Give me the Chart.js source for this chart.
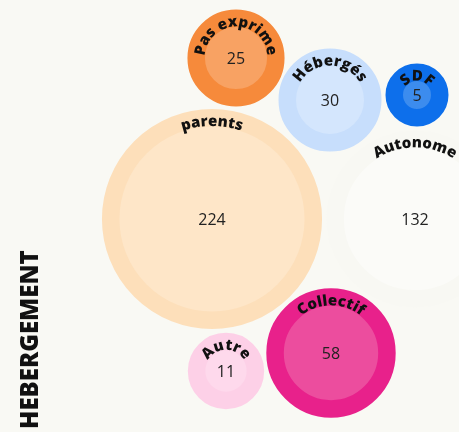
<!DOCTYPE html>
<html lang="fr">
<head>
<meta charset="UTF-8">
<title>Hebergement</title>
<script src="https://cdn.jsdelivr.net/npm/chart.js"></script>
<style>
    body {
        margin: 0;
        background-color: #f9f9f4;
    }
    .wrap {
        position: relative;
        width: 459px;
        height: 432px;
    }
    .title {
        position: absolute;
        left: 29px;
        top: 429px;
        transform-origin: 0 0;
        transform: rotate(-90deg) translateY(-50%);
        font-family: "Open Sans", sans-serif;
        font-weight: 800;
        font-size: 24px;
        line-height: 1;
        color: #111;
        white-space: nowrap;
    }
</style>
</head>
<body>
<div class="wrap">
    <canvas id="bubbles" width="459" height="432"></canvas>
    <div class="title">HEBERGEMENT</div>
</div>

<script>
    // categories and counts
    const categories = ["parents", "Autonome", "Collectif", "Hébergés", "Pas exprime", "Autre", "SDF"];
    const counts = [224, 132, 58, 30, 25, 11, 5];

    // packed layout (position of each bubble centre)
    const posX = [212, 415, 331, 330, 236, 226, 417];
    const posY = [219, 219, 353, 100, 58, 371, 95];

    const outerColors = ["#fddfba", "#f8f8f3", "#e8218b", "#c7defc", "#f68a3b", "#fdd0e7", "#0d6feb"];
    const innerColors = ["#fee6c8", "#fbfbf8", "#ec4d9e", "#d4e6fd", "#f8a263", "#fed9ec", "#3c8cee"];

    const ring = 17.5;
    // outer radius grows with sqrt of count
    function outerRadius(v) {
        return 31.5 + 6.17 * (Math.sqrt(v) - Math.sqrt(5));
    }

    function arcText(ctx, str, cx, cy, R) {
        const chars = Array.from(str);
        const widths = chars.map(c => ctx.measureText(c).width);
        const total = widths.reduce((a, b) => a + b, 0);
        let a = -Math.PI / 2 - total / R / 2;
        chars.forEach((c, i) => {
            const mid = a + widths[i] / 2 / R;
            ctx.save();
            ctx.translate(cx + R * Math.cos(mid), cy + R * Math.sin(mid));
            ctx.rotate(mid + Math.PI / 2);
            ctx.fillText(c, 0, 0);
            ctx.restore();
            a += widths[i] / R;
        });
    }

    const labelPlugin = {
        id: 'bubbleLabels',
        afterDatasetsDraw(chart) {
            const ctx = chart.ctx;
            const meta = chart.getDatasetMeta(0);
            meta.data.forEach((el, i) => {
                const outer = el.options.radius + ring / 2;
                ctx.save();
                ctx.fillStyle = "#222";
                ctx.font = "16px 'Open Sans'";
                ctx.textAlign = "center";
                ctx.textBaseline = "middle";
                ctx.fillText(counts[i], el.x, el.y + 1);
                ctx.fillStyle = "#111";
                ctx.font = "800 15px 'Open Sans'";
                ctx.textBaseline = "alphabetic";
                arcText(ctx, categories[i], el.x, el.y, outer - 17);
                ctx.restore();
            });
        }
    };

    new Chart(document.getElementById('bubbles'), {
        type: 'bubble',
        data: {
            datasets: [{
                data: counts.map((v, i) => ({ x: posX[i], y: posY[i], r: outerRadius(v) - ring / 2 })),
                backgroundColor: innerColors,
                borderColor: outerColors,
                borderWidth: ring
            }]
        },
        options: {
            responsive: false,
            animation: false,
            events: [],
            layout: { padding: 0, autoPadding: false },
            plugins: {
                legend: { display: false },
                tooltip: { enabled: false }
            },
            scales: {
                x: { display: false, min: 0, max: 459 },
                y: { display: false, min: 0, max: 432, reverse: true }
            }
        },
        plugins: [labelPlugin]
    });
</script>
</body>
</html>
